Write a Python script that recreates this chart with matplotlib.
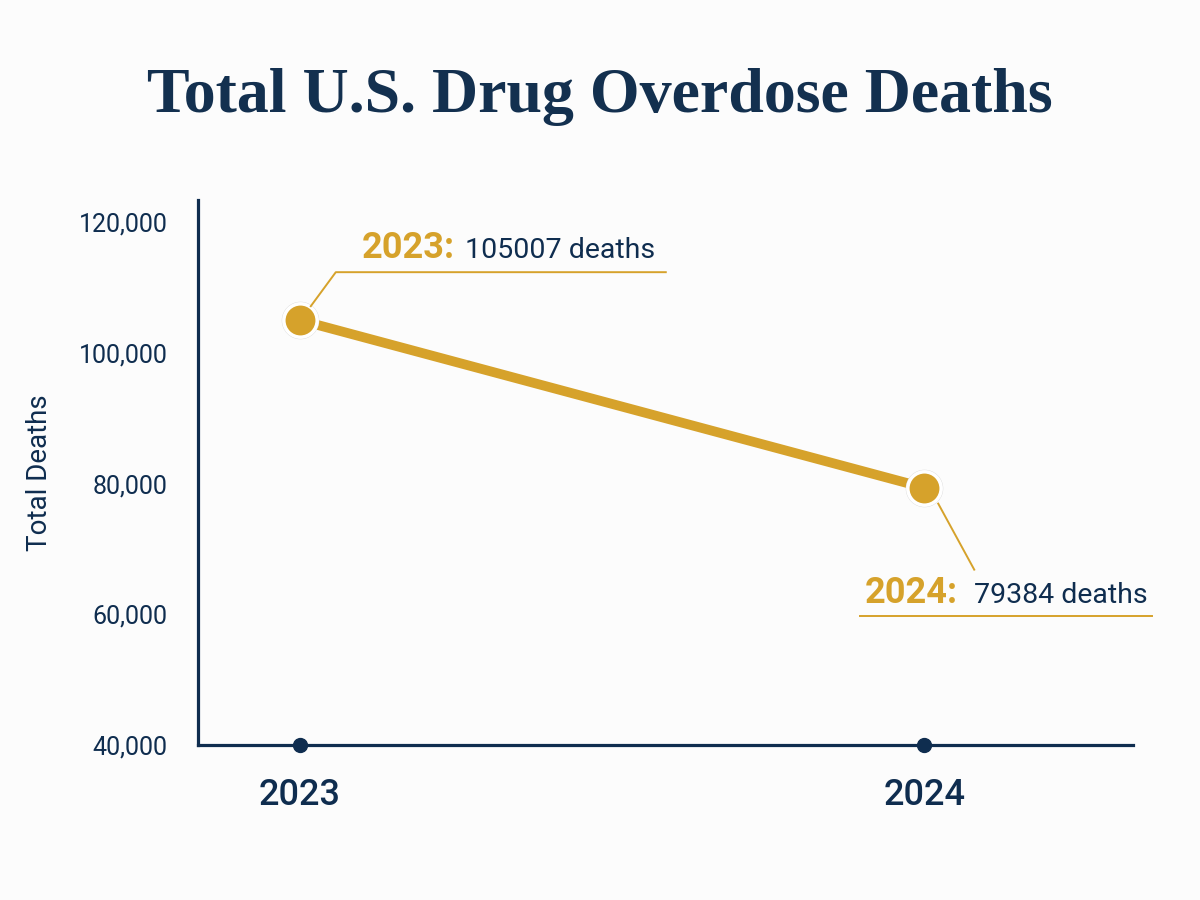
import matplotlib.pyplot as plt
from matplotlib.lines import Line2D
from matplotlib.transforms import IdentityTransform
from matplotlib.ticker import FuncFormatter

years = [2023, 2024]
deaths = [105007, 79384]
year_labels = ['2023', '2024']
y_ticks = [40000, 60000, 80000, 100000, 120000]

navy = '#0f2d4f'
gold = '#d6a22b'
bg = '#fcfcfc'

plt.rcParams['font.family'] = ['Roboto', 'DejaVu Sans']

fig = plt.figure(figsize=(12, 9), dpi=100, facecolor=bg)
ax = fig.add_axes([0.165, 0.1722, 0.779, 0.6056])
ax.set_facecolor(bg)

# 2023 at ~x=300px, 2024 at ~x=927px
ax.set_xlim(2022.837, 2024.334)
ax.set_ylim(40000, 123400)

# main line + markers
ax.plot(years, deaths, color=gold, lw=7, solid_capstyle='butt', zorder=3)
ax.plot(years, deaths, 'o', ms=27, color='#dadada', mec='none', zorder=4)
ax.plot(years, deaths, 'o', ms=24, color=gold, mec='white', mew=2.5, zorder=5)

# tick dots on the x axis
ax.plot(years, [40000] * len(years), 'o', ms=10, color=navy, clip_on=False, zorder=6)

for s in ['top', 'right']:
    ax.spines[s].set_visible(False)
for s in ['left', 'bottom']:
    ax.spines[s].set_color(navy)
    ax.spines[s].set_linewidth(2.3)

ax.set_xticks(years)
ax.set_xticklabels(year_labels)
ax.set_yticks(y_ticks)
ax.yaxis.set_major_formatter(FuncFormatter(lambda v, p: f'{int(v):,}'))
ax.tick_params(axis='y', length=0, pad=22, labelsize=18, labelcolor=navy)
ax.tick_params(axis='x', length=0, pad=24, labelsize=26, labelcolor=navy)
for lb in ax.get_xticklabels():
    lb.set_fontweight('medium')

ax.set_ylabel('Total Deaths', fontsize=20, color=navy)
ax.yaxis.set_label_coords(-0.155, 0.5)

fig.text(0.5, 0.892, 'Total U.S. Drug Overdose Deaths', ha='center', va='center',
         fontsize=46, fontweight='bold', color='#13304f', family='Liberation Serif')

# callouts
fig.canvas.draw()
idt = IdentityTransform()

p0 = ax.transData.transform((years[0], deaths[0]))
p1 = ax.transData.transform((years[1], deaths[1]))

# 2023 callout: diagonal leader up-right then underline
ux0, uy0 = p0[0] + 36, p0[1] + 48
ux1 = p0[0] + 366
fig.add_artist(Line2D([p0[0] + 11, ux0, ux1], [p0[1] + 14, uy0, uy0],
                      color=gold, lw=1.4, transform=idt))
t1 = fig.text(p0[0] + 62, uy0 + 14, f'{year_labels[0]}:', color=gold, fontsize=26,
              fontweight='bold', transform=idt, va='baseline')
fig.canvas.draw()
bb = t1.get_window_extent()
fig.text(bb.x1 + 10, uy0 + 14, f'{deaths[0]} deaths', color=navy, fontsize=20.5,
         transform=idt, va='baseline')

# 2024 callout: leader down-right, text with underline below
lx, ly = p1[0] + 50, p1[1] - 82
fig.add_artist(Line2D([p1[0] + 14, lx], [p1[1] - 16, ly], color=gold, lw=1.4, transform=idt))
uy1 = p1[1] - 128
fig.add_artist(Line2D([p1[0] - 64, p1[0] + 228], [uy1, uy1], color=gold, lw=1.4, transform=idt))
t2 = fig.text(p1[0] - 59, uy1 + 13, f'{year_labels[1]}:', color=gold, fontsize=26,
              fontweight='bold', transform=idt, va='baseline')
fig.canvas.draw()
bb = t2.get_window_extent()
fig.text(bb.x1 + 16, uy1 + 13, f'{deaths[1]} deaths', color=navy, fontsize=20.5,
         transform=idt, va='baseline')

fig.savefig('out.png', dpi=100, facecolor=bg)
